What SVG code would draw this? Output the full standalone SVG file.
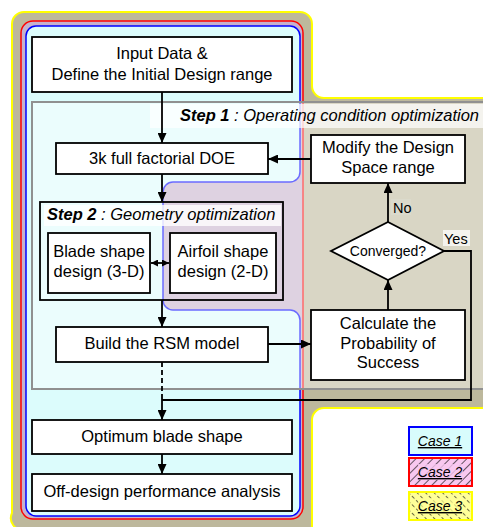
<svg xmlns="http://www.w3.org/2000/svg" width="483" height="527" viewBox="0 0 483 527">
<defs>
<style>
text{font-family:"Liberation Sans",Arial,sans-serif;fill:#000}
.t{font-size:16.5px;text-anchor:middle}
.s{font-size:14px}
.lg{font-size:14px;font-style:italic;text-decoration:underline;text-anchor:middle}
.box{fill:#fff;stroke:#000;stroke-width:1.8}
.ln{fill:none;stroke:#000;stroke-width:1.8}
</style>
<marker id="ah" markerUnits="userSpaceOnUse" markerWidth="10" markerHeight="9" refX="10" refY="4.5" orient="auto-start-reverse"><path d="M0,0 L10,4.5 L0,9 Z" fill="#000"/></marker>
<marker id="ah2" markerUnits="userSpaceOnUse" markerWidth="7" markerHeight="7" refX="7" refY="3.5" orient="auto-start-reverse"><path d="M0,0 L7,3.5 L0,7 Z" fill="#000"/></marker>
<pattern id="h2" width="6" height="6" patternUnits="userSpaceOnUse" patternTransform="rotate(45)"><rect width="6" height="6" fill="#f8c8f0"/><line x1="0" y1="0" x2="0" y2="6" stroke="#000" stroke-width="1.2"/></pattern>
<pattern id="h3" width="6" height="6" patternUnits="userSpaceOnUse" patternTransform="rotate(-45)"><rect width="6" height="6" fill="#ffff99"/><line x1="0" y1="0" x2="0" y2="3.5" stroke="#000" stroke-width="1.2"/></pattern>
</defs>
<rect width="483" height="527" fill="#fff"/>
<g id="case3">
<path d="M24,12 H300 A12,12 0 0 1 312,24 V86 A12,12 0 0 0 324,98 H490 V408 H324 A12,12 0 0 0 312,420 V530 H24 A12,12 0 0 1 12,513 V24 A12,12 0 0 1 24,12 Z" fill="#bdb89c" stroke="#ffff00" stroke-width="2"/>
</g>
<g id="case2">
<rect x="21" y="21" width="282" height="498" rx="12" fill="#c6b2cc" stroke="#ff0000" stroke-width="1.5"/>
</g>
<g id="case1">
<path d="M36,26 H290 A10,10 0 0 1 300,36 V172 A10,10 0 0 1 290,182 H173 A10,10 0 0 0 163,192 V300 A10,10 0 0 0 173,310 H290 A10,10 0 0 1 300,320 V506 A10,10 0 0 1 290,516 H36 A10,10 0 0 1 26,506 V36 A10,10 0 0 1 36,26 Z" fill="#dcfcfc" stroke="#0000ff" stroke-width="1.5"/>
</g>
<g id="step1">
<rect x="32" y="102" width="460" height="287" fill="#fff" fill-opacity="0.42" stroke="#909090" stroke-width="2"/>
<rect x="150" y="104" width="335" height="24" fill="#fff" fill-opacity="0.7"/>
<text x="180" y="121" style="font-size:16.5px;font-style:italic"><tspan font-weight="bold">Step 1</tspan> : Operating condition optimization</text>
</g>
<g id="input"><rect class="box" x="32" y="37" width="260" height="55"/><text class="t" x="162" y="59">Input Data &amp;</text><text class="t" x="162" y="80">Define the Initial Design range</text></g>
<g id="doe"><rect class="box" x="56" y="143" width="212" height="31"/><text class="t" x="162" y="164">3k full factorial DOE</text></g>
<g id="modify"><rect class="box" x="311" y="135" width="154" height="48"/><text class="t" x="388" y="153">Modify the Design</text><text class="t" x="388" y="173">Space range</text></g>
<g id="step2">
<rect x="44" y="205" width="237" height="21" fill="#fff" fill-opacity="0.8"/>
<rect class="ln" x="40" y="202" width="243" height="98"/>
<text x="47" y="220" style="font-size:16.5px;font-style:italic"><tspan font-weight="bold">Step 2</tspan> : Geometry optimization</text>
</g>
<g id="blade"><rect class="box" x="48" y="233" width="102" height="60"/><text class="t" x="99" y="257">Blade shape</text><text class="t" x="99" y="277">design (3-D)</text></g>
<g id="airfoil"><rect class="box" x="170" y="233" width="106" height="60"/><text class="t" x="223" y="257">Airfoil shape</text><text class="t" x="223" y="277">design (2-D)</text></g>
<g id="converged"><path d="M388,222 L444,251 L388,280 L331,251 Z" fill="#fff" stroke="#000" stroke-width="1.8"/><text class="s" x="388" y="256" text-anchor="middle">Converged?</text></g>
<g id="rsm"><rect class="box" x="56" y="327" width="212" height="35"/><text class="t" x="162" y="349">Build the RSM model</text></g>
<g id="calc"><rect class="box" x="311" y="310" width="154" height="70"/><text class="t" x="388" y="329">Calculate the</text><text class="t" x="388" y="349">Probability of</text><text class="t" x="388" y="368">Success</text></g>
<g id="optimum"><rect class="box" x="32" y="420" width="260" height="34"/><text class="t" x="162" y="442">Optimum blade shape</text></g>
<g id="offdesign"><rect class="box" x="32" y="474" width="260" height="37"/><text class="t" x="162" y="497">Off-design performance analysis</text></g>
<g id="connectors">
<path class="ln" d="M162,92 V143" marker-end="url(#ah)"/>
<path class="ln" d="M162,174 V202" marker-end="url(#ah)"/>
<path class="ln" d="M151,263 H169" marker-start="url(#ah2)" marker-end="url(#ah2)"/>
<path class="ln" d="M162,300 V327" marker-end="url(#ah)"/>
<path class="ln" d="M268,344 H311" marker-end="url(#ah)"/>
<path class="ln" d="M388,310 V280" marker-end="url(#ah)"/>
<path class="ln" d="M388,222 V183" marker-end="url(#ah)"/>
<path class="ln" d="M311,159 H268" marker-end="url(#ah)"/>
<path class="ln" d="M444,251 H471 V400 H162 V420" marker-end="url(#ah)"/>
<path class="ln" d="M162,362 V400" stroke-dasharray="5,3"/>
<path class="ln" d="M162,454 V474" marker-end="url(#ah)"/>
<rect x="391" y="199" width="20" height="16" fill="#dcdcd0" fill-opacity="0.6"/>
<text class="s" x="393" y="213" style="font-size:14.5px">No</text>
<rect x="443" y="230" width="27" height="16" fill="#fff" fill-opacity="0.7"/>
<text class="s" x="444" y="244" style="font-size:14.5px">Yes</text>
</g>
<g id="legend">
<rect x="409" y="427" width="63" height="28" fill="#d8fcfc" stroke="#0000ff" stroke-width="2"/>
<text class="lg" x="440" y="446">Case 1</text>
<rect x="409" y="458" width="63" height="28" fill="url(#h2)" stroke="#ff0000" stroke-width="2"/>
<rect x="418" y="464" width="45" height="16" fill="#f8c8f0" fill-opacity="0.8"/>
<text class="lg" x="440" y="477">Case 2</text>
<rect x="409" y="492" width="63" height="28" fill="url(#h3)" stroke="#ffff00" stroke-width="2"/>
<rect x="418" y="498" width="45" height="16" fill="#ffff99" fill-opacity="0.7"/>
<text class="lg" x="440" y="511">Case 3</text>
</g>
</svg>
